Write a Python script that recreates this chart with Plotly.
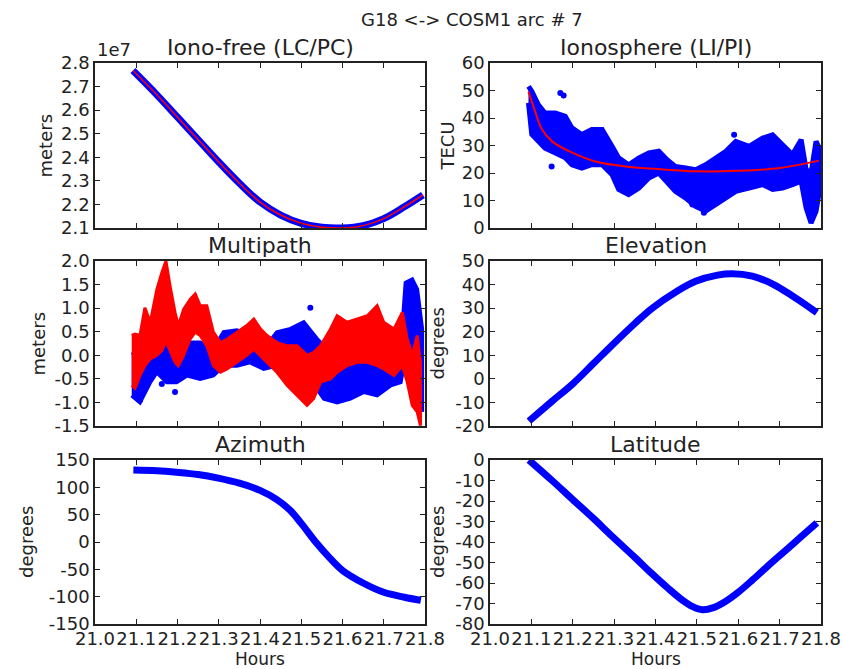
import plotly.graph_objects as go

# ---------------- data ----------------
x_ticks = [21.0, 21.1, 21.2, 21.3, 21.4, 21.5, 21.6, 21.7, 21.8]
x_ticktext = ["21.0", "21.1", "21.2", "21.3", "21.4", "21.5", "21.6", "21.7", "21.8"]

# Iono-free (LC/PC), units of 1e7 m
if_x = [21.092, 21.15, 21.20, 21.25, 21.30, 21.35, 21.40, 21.45, 21.50, 21.55, 21.60, 21.65, 21.70, 21.75, 21.795]
if_y = [2.768, 2.665, 2.57, 2.475, 2.38, 2.29, 2.21, 2.155, 2.12, 2.103, 2.10, 2.11, 2.14, 2.19, 2.24]
if_ticks = [2.1, 2.2, 2.3, 2.4, 2.5, 2.6, 2.7, 2.8]

# Ionosphere (LI/PI), TECU: scatter cloud envelope + fit
iono_x = [21.093, 21.101, 21.117, 21.133, 21.158, 21.182, 21.198, 21.222, 21.246, 21.271, 21.295, 21.311,
          21.335, 21.36, 21.384, 21.408, 21.428, 21.448, 21.473, 21.497, 21.521, 21.545, 21.57, 21.594,
          21.626, 21.659, 21.683, 21.707, 21.731, 21.752, 21.764, 21.776, 21.788, 21.796]
iono_hi = [51.5, 49.7, 44.8, 41.8, 41.8, 40.6, 36.4, 34.0, 35.8, 35.8, 29.7, 25.5, 23.0, 25.5, 27.3, 27.9,
           24.8, 22.4, 21.8, 21.2, 23.0, 25.5, 27.9, 31.5, 29.7, 32.7, 33.9, 30.3, 26.7, 32.1, 21.2, 20.0,
           31.5, 29.0]
iono_lo = [45.5, 34.0, 31.5, 29.0, 27.3, 25.5, 23.0, 21.8, 23.0, 23.0, 19.4, 14.0, 12.1, 14.5, 18.2, 20.0,
           17.0, 13.3, 10.9, 7.9, 6.1, 8.5, 10.9, 13.3, 14.5, 15.8, 14.0, 14.5, 15.8, 17.0, 7.3, 1.8, 6.1, 13.3]
iono_out_x = [21.170, 21.178, 21.149, 21.590, 21.489, 21.517]
iono_out_y = [49.1, 48.2, 22.4, 33.9, 8.5, 5.5]
fit_x = [21.093, 21.109, 21.125, 21.15, 21.2, 21.255, 21.327, 21.4, 21.5, 21.6, 21.7, 21.795]
fit_y = [49.6, 42.4, 36.0, 31.5, 27.3, 24.2, 22.4, 21.5, 20.6, 20.8, 21.8, 24.5]
iono_ticks = [0, 10, 20, 30, 40, 50, 60]

# Multipath, meters: blue cloud envelope, red line envelope
mp_blue_x = [21.089, 21.109, 21.134, 21.15, 21.174, 21.198, 21.223, 21.255, 21.287, 21.312, 21.344, 21.376,
             21.409, 21.441, 21.474, 21.506, 21.538, 21.555, 21.587, 21.619, 21.652, 21.684, 21.717, 21.741,
             21.753, 21.769, 21.781, 21.793]
mp_blue_hi = [0.06, 0.0, 0.35, 0.77, 0.35, 0.0, 0.27, 0.27, 0.13, 0.49, 0.53, 0.42, 0.13, 0.49, 0.56, 0.7,
              0.35, 0.2, 0.0, 0.0, -0.15, 0.0, -0.08, 0.06, 1.54, 1.61, 1.4, 0.56]
mp_blue_lo = [-0.85, -1.0, -0.57, -0.36, -0.57, -0.57, -0.43, -0.5, -0.43, -0.22, -0.22, -0.15, -0.29,
              -0.22, -0.15, -0.15, -0.71, -0.92, -1.0, -0.92, -0.78, -0.85, -0.64, -0.57, 0.0, 0.13, -0.57, -1.2]
mp_out_x = [21.522, 21.162, 21.194, 21.109, 21.585, 21.607]
mp_out_y = [1.01, -0.61, -0.78, -0.96, 0.45, 0.5]
mp_red_x = [21.089, 21.097, 21.109, 21.121, 21.134, 21.15, 21.162, 21.172, 21.182, 21.194, 21.202, 21.215,
            21.231, 21.243, 21.255, 21.271, 21.287, 21.304, 21.32, 21.344, 21.368, 21.385, 21.401, 21.417,
            21.441, 21.466, 21.49, 21.514, 21.53, 21.547, 21.571, 21.587, 21.611, 21.636, 21.66, 21.684,
            21.7, 21.725, 21.745, 21.757, 21.769, 21.781, 21.789]
mp_red_hi = [0.42, 0.45, 0.42, 1.01, 0.7, 1.4, 1.75, 2.0, 1.47, 0.91, 0.63, 0.98, 1.19, 1.3, 1.05, 1.05,
             0.49, 0.27, 0.34, 0.49, 0.63, 0.77, 0.56, 0.42, 0.27, 0.2, 0.2, 0.0, 0.06, 0.2, 0.56, 0.84,
             0.7, 0.77, 0.84, 1.05, 0.7, 0.56, 0.91, 0.34, 0.0, 0.42, -0.15]
mp_red_lo = [-0.64, -0.7, -0.43, -0.22, -0.08, 0.0, 0.1, 0.3, 0.1, -0.15, -0.22, 0.0, 0.35, 0.49, 0.42,
             0.2, -0.22, -0.36, -0.29, -0.15, 0.0, 0.13, 0.0, -0.15, -0.36, -0.64, -0.85, -1.06, -0.92,
             -0.57, -0.5, -0.36, -0.22, -0.15, -0.15, -0.22, -0.29, -0.43, -0.22, -0.57, -1.06, -1.2, -1.49]
mp_ticks = [-1.5, -1.0, -0.5, 0.0, 0.5, 1.0, 1.5, 2.0]

# Elevation, degrees
elev_x = [21.094, 21.15, 21.2, 21.25, 21.295, 21.35, 21.392, 21.45, 21.497, 21.55, 21.585, 21.634, 21.68,
          21.714, 21.75, 21.79]
elev_y = [-17.9, -9.5, -2.1, 6.5, 14.3, 23.5, 30.0, 37.0, 41.4, 44.0, 44.6, 43.6, 40.5, 37.1, 33.0, 28.1]
elev_ticks = [-20, -10, 0, 10, 20, 30, 40, 50]

# Azimuth, degrees
az_x = [21.093, 21.15, 21.198, 21.25, 21.299, 21.35, 21.4, 21.44, 21.473, 21.50, 21.537, 21.57, 21.60,
        21.65, 21.70, 21.75, 21.79]
az_y = [131.9, 130.5, 127.7, 123.5, 116.8, 107.5, 94.4, 78.0, 58.0, 34.0, -2.0, -30.0, -52.0, -75.0,
        -92.0, -101.0, -106.6]
az_ticks = [-150, -100, -50, 0, 50, 100, 150]

# Latitude, degrees
lat_x = [21.094, 21.15, 21.2, 21.25, 21.295, 21.35, 21.39, 21.43, 21.464, 21.49, 21.513, 21.54, 21.569,
         21.6, 21.634, 21.67, 21.714, 21.75, 21.79]
lat_y = [0.0, -10.0, -19.3, -28.5, -37.2, -47.5, -55.2, -62.5, -68.2, -71.5, -73.0, -72.0, -69.0, -64.5,
         -58.6, -52.0, -44.2, -37.8, -30.7]
lat_ticks = [-80, -70, -60, -50, -40, -30, -20, -10, 0]

# ---------------- figure ----------------
W, H = 843, 669
BLUE = "#0000ff"
RED = "#ff0000"
INK = "#222222"
FONT = "DejaVu Sans"


def px_x(p):
    return p / W


def px_y(p):
    return 1 - p / H


cols = [(95, 425), (490, 821)]
rows = [(63, 228), (261, 426), (460, 624)]

fig = go.Figure()


def band(xs, hi, lo, color, axis_n, lw):
    fig.add_trace(go.Scatter(
        x=list(xs) + list(xs)[::-1], y=list(hi) + list(lo)[::-1],
        mode="lines", fill="toself", fillcolor=color,
        line=dict(color=color, width=lw),
        xaxis=f"x{axis_n}", yaxis=f"y{axis_n}", showlegend=False, hoverinfo="skip"))


def line(xs, ys, color, axis_n, lw, shape="spline"):
    fig.add_trace(go.Scatter(x=xs, y=ys, mode="lines", line=dict(color=color, width=lw, shape=shape),
                             xaxis=f"x{axis_n}", yaxis=f"y{axis_n}", showlegend=False))


def dots(xs, ys, color, axis_n):
    fig.add_trace(go.Scatter(x=xs, y=ys, mode="markers", marker=dict(color=color, size=6),
                             xaxis=f"x{axis_n}", yaxis=f"y{axis_n}", showlegend=False))


# 1 Iono-free
line(if_x, if_y, BLUE, 1, 7)
line(if_x, if_y, RED, 1, 1.5)
# 2 Ionosphere
band(iono_x, iono_hi, iono_lo, BLUE, 2, 5)
dots(iono_out_x, iono_out_y, BLUE, 2)
line(fit_x, fit_y, RED, 2, 2)
# 3 Multipath
band(mp_blue_x, mp_blue_hi, mp_blue_lo, BLUE, 3, 4)
dots(mp_out_x, mp_out_y, BLUE, 3)
band(mp_red_x, mp_red_hi, mp_red_lo, RED, 3, 3)
# 4 Elevation
line(elev_x, elev_y, BLUE, 4, 7)
# 5 Azimuth
line(az_x, az_y, BLUE, 5, 7)
# 6 Latitude
line(lat_x, lat_y, BLUE, 6, 7)

panels = [
    # n, row, col, yrange, yticks, ytickfmt, title, ylabel, ylabel_x
    (1, 0, 0, [2.1, 2.8], if_ticks, ".1f", "Iono-free (LC/PC)", "meters", 45),
    (2, 0, 1, [0, 60], iono_ticks, "d", "Ionosphere (LI/PI)", "TECU", 447),
    (3, 1, 0, [-1.5, 2.0], mp_ticks, ".1f", "Multipath", "meters", 38),
    (4, 1, 1, [-20, 50], elev_ticks, "d", "Elevation", "degrees", 437),
    (5, 2, 0, [-150, 150], az_ticks, "d", "Azimuth", "degrees", 26),
    (6, 2, 1, [-80, 0], lat_ticks, "d", "Latitude", "degrees", 437),
]

common = dict(showline=True, linecolor=INK, linewidth=1.5, mirror="ticks", ticks="inside", ticklen=5,
              tickwidth=1, tickcolor=INK, showgrid=False, zeroline=False, automargin=False,
              tickfont=dict(family=FONT, size=18, color=INK))

annotations = []
layout_axes = {}
for n, r, c, yr, yt, yf, title, ylab, ylx in panels:
    x0, x1 = cols[c]
    ytop, ybot = rows[r]
    xd = [px_x(x0), px_x(x1)]
    yd = [px_y(ybot), px_y(ytop)]
    sfx = "" if n == 1 else str(n)
    layout_axes[f"xaxis{sfx}"] = dict(common, domain=xd, anchor=f"y{n}", range=[21.0, 21.8],
                                      tickmode="array", tickvals=x_ticks, ticktext=x_ticktext,
                                      showticklabels=(r == 2), tickangle=0, ticklabelstandoff=-2)
    ytxt = [format(v, yf) if yf != "d" else str(int(v)) for v in yt]
    layout_axes[f"yaxis{sfx}"] = dict(common, domain=yd, anchor=f"x{n}", range=yr,
                                      tickmode="array", tickvals=yt, ticktext=ytxt)
    annotations.append(dict(text=title, x=(xd[0] + xd[1]) / 2, y=yd[1], xref="paper", yref="paper",
                            xanchor="center", yanchor="bottom", yshift=1, showarrow=False,
                            font=dict(family=FONT, size=22, color=INK)))
    annotations.append(dict(text=ylab, x=px_x(ylx), y=(yd[0] + yd[1]) / 2, xref="paper", yref="paper",
                            xanchor="center", yanchor="middle", textangle=-90, showarrow=False,
                            font=dict(family=FONT, size=18, color=INK)))
    if r == 2:
        annotations.append(dict(text="Hours", x=(xd[0] + xd[1]) / 2, y=px_y(659), xref="paper",
                                yref="paper", xanchor="center", yanchor="middle", borderpad=0,
                                showarrow=False, font=dict(family=FONT, size=17, color=INK)))

annotations.append(dict(text="1e7", x=px_x(95), y=px_y(63), xref="paper", yref="paper", xanchor="left",
                        yanchor="bottom", yshift=1, showarrow=False,
                        font=dict(family=FONT, size=18, color=INK)))
annotations.append(dict(text="G18 <-> COSM1 arc # 7", x=px_x(472), y=px_y(19), xref="paper", yref="paper",
                        xanchor="center", yanchor="middle", showarrow=False,
                        font=dict(family=FONT, size=18, color=INK)))

fig.update_layout(width=W, height=H, autosize=False, margin=dict(l=0, r=0, t=0, b=0, pad=0),
                  paper_bgcolor="white", plot_bgcolor="white", annotations=annotations,
                  showlegend=False, **layout_axes)

fig.write_html("out.html")
